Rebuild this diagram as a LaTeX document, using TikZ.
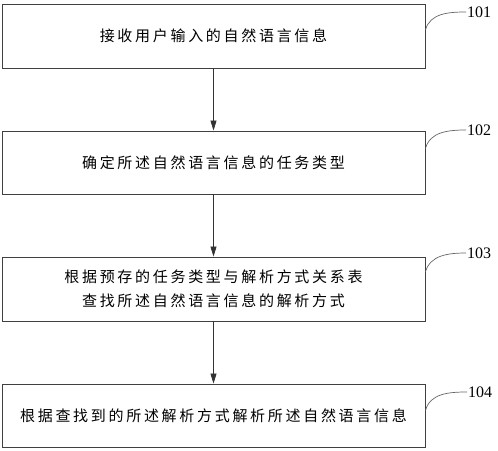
\documentclass[tikz,border=0pt]{standalone}
\usepackage{fontspec}
\usetikzlibrary{arrows.meta}
\newfontfamily\cjkfont[LetterSpace=18]{Noto Sans CJK SC}
\newfontfamily\numfont{Liberation Serif}
\begin{document}
\begin{tikzpicture}[x=1pt,y=-1pt]
  \useasboundingbox (0,0) rectangle (498,450);
  \begin{scope}[every node/.style={draw=black!75,line width=0.9pt,minimum width=423pt,inner sep=0pt,align=center,font=\cjkfont\fontsize{15}{24}\selectfont}]
  \node[minimum height=64pt] (s1) at (213.5,36) {接收用户输入的自然语言信息};
  \node[minimum height=63pt] (s2) at (213.5,162.5) {确定所述自然语言信息的任务类型};
  \node[minimum height=64pt] (s3) at (213.5,289) {根据预存的任务类型与解析方式关系表\\查找所述自然语言信息的解析方式};
  \node[minimum height=63pt] (s4) at (213.5,415.5) {根据查找到的所述解析方式解析所述自然语言信息};
  \end{scope}
  \begin{scope}[every edge/.style={draw=black!80,line width=0.8pt,-{Triangle[width=6pt,length=10pt]}}]
  \path (s1.south) edge (s2.north);
  \path (s2.south) edge (s3.north);
  \path (s3.south) edge (s4.north);
  \end{scope}
  \begin{scope}[every node/.style={anchor=west,inner sep=1pt,font=\numfont\fontsize{16}{16}\selectfont}]
  \node (n101) at (466,12) {101};
  \node (n102) at (466,130) {102};
  \node (n103) at (466,253) {103};
  \node (n104) at (467,392) {104};
  \end{scope}
  \begin{scope}[every edge/.style={draw=black!60,line width=0.7pt,out=75,in=180}]
  \path ([yshift=6pt]s1.east) edge (n101.west);
  \path ([yshift=14pt]s2.east) edge (n102.west);
  \path ([yshift=17pt]s3.east) edge (n103.west);
  \path ([yshift=5pt]s4.east) edge (n104.west);
  \end{scope}
\end{tikzpicture}
\end{document}
